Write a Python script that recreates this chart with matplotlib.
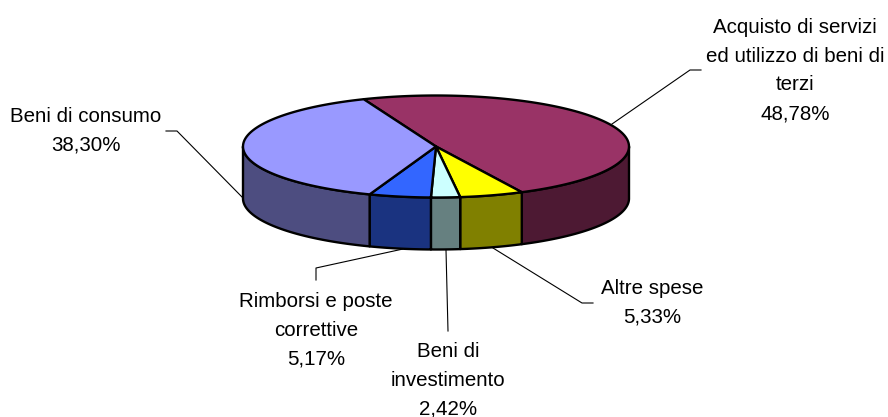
import numpy as np
import matplotlib
matplotlib.use('Agg')
import matplotlib.pyplot as plt
from matplotlib.patches import Polygon

plt.rcParams['font.family'] = ['Liberation Sans', 'DejaVu Sans']

# clockwise from the start angle
labels = ['Acquisto di servizi\ned utilizzo di beni di\nterzi\n48,78%', 'Altre spese\n5,33%',
          'Beni di\ninvestimento\n2,42%', 'Rimborsi e poste\ncorrettive\n5,17%', 'Beni di consumo\n38,30%']
values = [48.78, 5.33, 2.42, 5.17, 38.30]
top_colors = ['#993366', '#FFFF00', '#CCFFFF', '#3366FF', '#9999FF']
side_colors = ['#4D1933', '#808000', '#668080', '#1A3380', '#4D4D80']
label_pos = [(795, 70.5), (652, 303), (448, 380), (316, 330), (86, 131)]
leaders = [[(612, 124), (690, 70), (701, 70)],
           [(493, 248), (582, 303), (593, 303)],
           [(446, 250), (448, 331)],
           [(403, 249), (316, 268), (316, 280)],
           [(243, 198), (177, 131), (166, 131)]]

CX, CY, RX, RY, DEPTH = 436, 146.5, 193, 51, 52
START = -22.0


def pt(a, dy=0):
    a = np.radians(a)
    return np.column_stack([CX + RX * np.sin(a), CY - RY * np.cos(a) + dy])


fig = plt.figure(figsize=(8.88, 4.17), dpi=100)
ax = fig.add_axes([0, 0, 1, 1])
ax.set_xlim(0, 888)
ax.set_ylim(417, 0)
ax.axis('off')

edges = START + np.concatenate([[0], np.cumsum(values)]) * 360 / sum(values)

# side walls, only the front half of the rim shows
for i in range(len(values)):
    a0, a1 = max(edges[i], 90), min(edges[i + 1], 270)
    if a1 <= a0:
        continue
    arc = np.linspace(a0, a1, 80)
    poly = np.vstack([pt(arc), pt(arc[::-1], DEPTH)])
    ax.add_patch(Polygon(poly, fc=side_colors[i], ec='black', lw=1.7, joinstyle='round'))

# top face
for i in range(len(values)):
    arc = np.linspace(edges[i], edges[i + 1], 120)
    poly = np.vstack([[[CX, CY]], pt(arc)])
    ax.add_patch(Polygon(poly, fc=top_colors[i], ec='black', lw=1.7, joinstyle='round'))

for line in leaders:
    xs, ys = zip(*line)
    ax.plot(xs, ys, color='black', lw=0.8, zorder=0.5)

for text, (x, y) in zip(labels, label_pos):
    ax.text(x, y, text, ha='center', va='center', fontsize=14.8, linespacing=1.66, color='black')

fig.savefig('out.png', dpi=100)
